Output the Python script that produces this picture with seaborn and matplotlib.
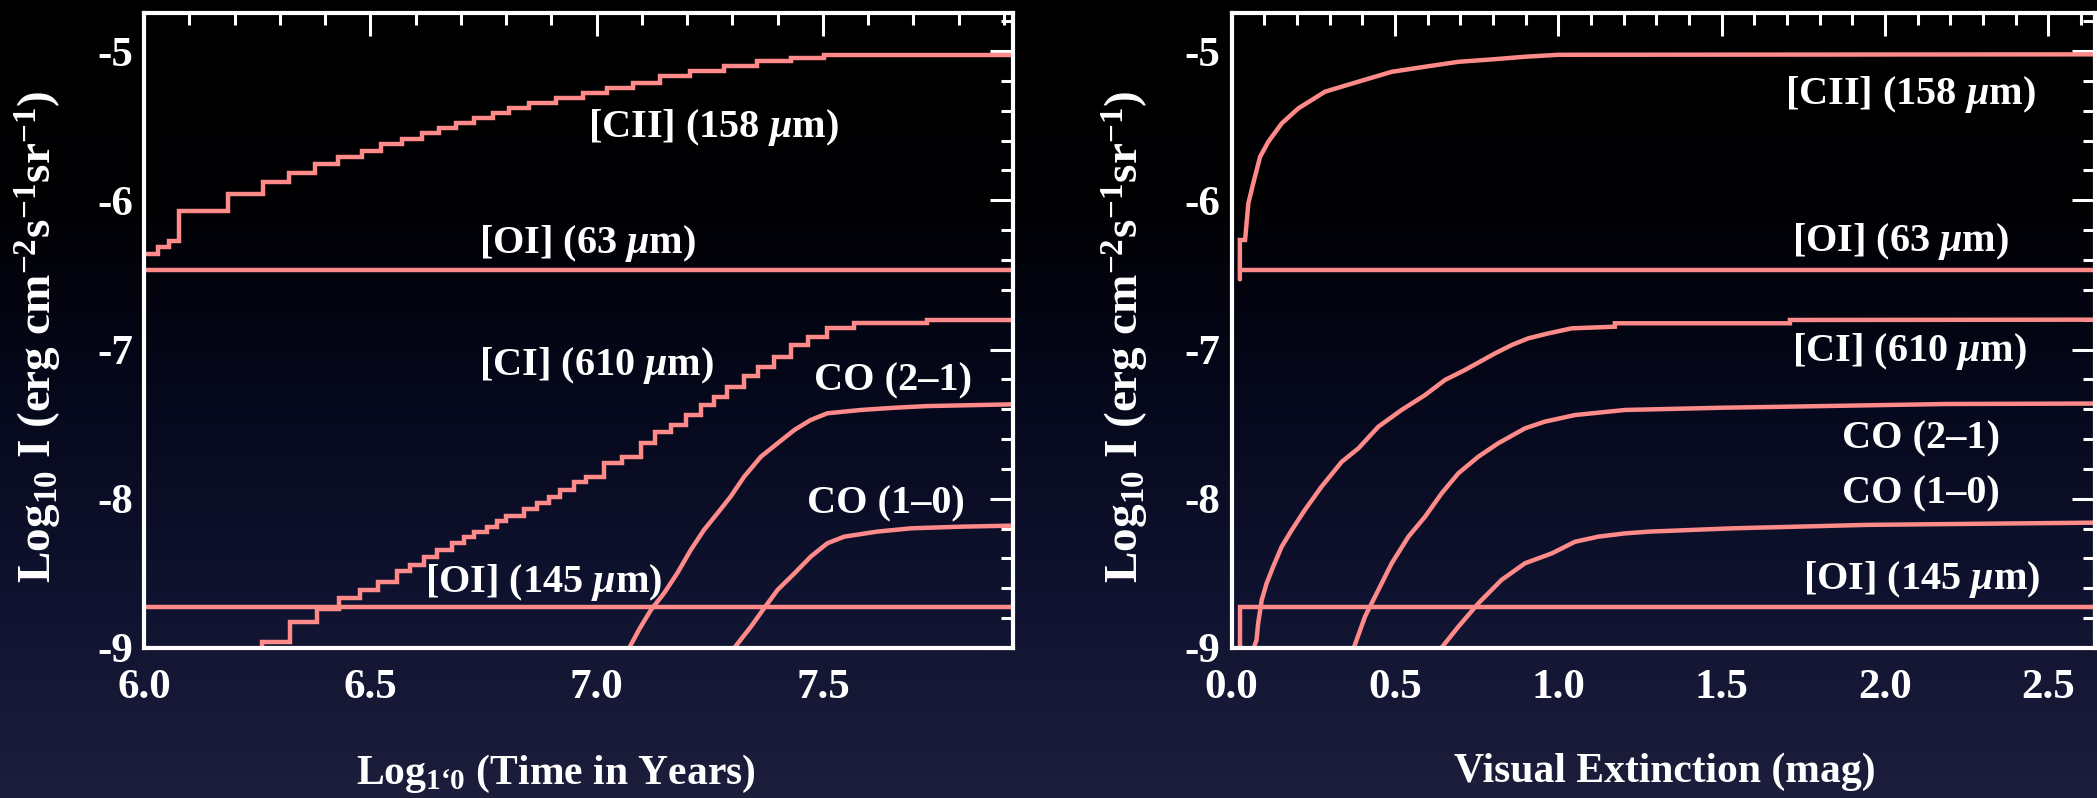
import numpy as np
import pandas as pd
import matplotlib
matplotlib.use("Agg")
import matplotlib.pyplot as plt
from matplotlib.colors import LinearSegmentedColormap
from matplotlib.ticker import MultipleLocator, FormatStrFormatter, FixedLocator
import seaborn as sns

# ---------------- data ----------------
# Left panel: Log10(time in years)
cii_t_x = [6.000, 6.030, 6.055, 6.078, 6.185, 6.262, 6.321, 6.378, 6.429, 6.481,
           6.523, 6.570, 6.615, 6.652, 6.689, 6.729, 6.770, 6.807, 6.851, 6.911,
           6.970, 7.022, 7.081, 7.140, 7.207, 7.281, 7.355, 7.429, 7.503, 7.920]
cii_t_y = [-6.360, -6.310, -6.270, -6.072, -5.960, -5.878, -5.817, -5.756, -5.708, -5.667,
           -5.626, -5.586, -5.551, -5.517, -5.483, -5.449, -5.415, -5.381, -5.347, -5.313,
           -5.279, -5.245, -5.211, -5.170, -5.136, -5.102, -5.068, -5.044, -5.027, -5.027]

ci_t_x = [6.260, 6.260, 6.323, 6.382, 6.430, 6.478, 6.518, 6.559, 6.588, 6.618,
          6.648, 6.681, 6.706, 6.730, 6.758, 6.780, 6.800, 6.840, 6.869, 6.895,
          6.920, 6.950, 6.976, 7.016, 7.057, 7.097, 7.130, 7.164, 7.197, 7.230,
          7.260, 7.289, 7.326, 7.356, 7.392, 7.430, 7.466, 7.510, 7.569, 7.730, 7.920]
ci_t_y = [-9.000, -8.958, -8.824, -8.740, -8.667, -8.610, -8.556, -8.482, -8.444, -8.388,
          -8.343, -8.294, -8.258, -8.220, -8.187, -8.147, -8.116, -8.070, -8.026, -7.986,
          -7.940, -7.890, -7.852, -7.758, -7.718, -7.628, -7.550, -7.506, -7.439, -7.372,
          -7.316, -7.250, -7.180, -7.115, -7.048, -6.970, -6.914, -6.858, -6.820, -6.800, -6.800]

co21_t_x = [7.072, 7.095, 7.120, 7.149, 7.178, 7.208, 7.237, 7.267, 7.296, 7.326,
            7.363, 7.400, 7.437, 7.473, 7.510, 7.584, 7.658, 7.730, 7.920]
co21_t_y = [-9.000, -8.870, -8.745, -8.633, -8.500, -8.343, -8.210, -8.097, -7.986, -7.852,
            -7.718, -7.628, -7.539, -7.472, -7.427, -7.405, -7.390, -7.379, -7.367]

co10_t_x = [7.304, 7.341, 7.370, 7.400, 7.437, 7.473, 7.510, 7.547, 7.620, 7.695, 7.805, 7.920]
co10_t_y = [-9.000, -8.857, -8.734, -8.610, -8.500, -8.388, -8.298, -8.254, -8.220, -8.198, -8.187, -8.180]

oi63_t_x = [6.00, 7.92]
oi63_t_y = [-6.465, -6.465]
oi145_t_x = [6.00, 7.92]
oi145_t_y = [-8.722, -8.722]

# Right panel: visual extinction (mag)
cii_av_x = [0.025, 0.025, 0.041, 0.051, 0.066, 0.087, 0.112, 0.153, 0.204, 0.286,
            0.388, 0.490, 0.592, 0.694, 0.796, 0.898, 1.000, 2.643]
cii_av_y = [-6.530, -6.266, -6.266, -6.020, -5.886, -5.708, -5.608, -5.485, -5.384, -5.272,
            -5.205, -5.139, -5.105, -5.072, -5.056, -5.038, -5.025, -5.022]

ci_av_x = [0.066, 0.076, 0.081, 0.092, 0.107, 0.127, 0.153, 0.184, 0.224, 0.275,
           0.337, 0.388, 0.449, 0.520, 0.592, 0.653, 0.714, 0.806, 0.857, 0.908,
           0.969, 1.041, 1.173, 1.173, 1.709, 1.709, 2.643]
ci_av_y = [-9.010, -8.946, -8.834, -8.678, -8.566, -8.455, -8.321, -8.209, -8.075, -7.919,
           -7.752, -7.662, -7.517, -7.405, -7.305, -7.204, -7.137, -7.026, -6.970, -6.925,
           -6.892, -6.858, -6.847, -6.824, -6.824, -6.802, -6.800]

co21_av_x = [0.372, 0.408, 0.449, 0.490, 0.541, 0.592, 0.643, 0.694, 0.755, 0.816,
             0.898, 0.959, 1.051, 1.204, 1.500, 1.699, 2.188, 2.643]
co21_av_y = [-9.010, -8.790, -8.611, -8.432, -8.254, -8.120, -7.963, -7.829, -7.718, -7.628,
             -7.528, -7.483, -7.439, -7.405, -7.390, -7.383, -7.365, -7.362]

co10_av_x = [0.638, 0.694, 0.755, 0.826, 0.898, 0.980, 1.051, 1.122, 1.204, 1.280,
             1.535, 1.944, 2.643]
co10_av_y = [-9.010, -8.857, -8.701, -8.544, -8.432, -8.366, -8.288, -8.254, -8.232, -8.220,
             -8.198, -8.175, -8.160]

oi63_av_x = [0.025, 2.643]
oi63_av_y = [-6.467, -6.467]
oi145_av_x = [0.025, 0.025, 2.643]
oi145_av_y = [-9.000, -8.723, -8.723]

# labels: (text, x, y)
left_labels = [
    (r"[CII] (158 $\mathit{\mu}$m)", 7.257, -5.51),
    (r"[OI] (63 $\mathit{\mu}$m)", 6.980, -6.29),
    (r"[CI] (610 $\mathit{\mu}$m)", 7.000, -7.11),
    ("CO (2\u20131)", 7.655, -7.21),
    ("CO (1\u20130)", 7.640, -8.035),
    (r"[OI] (145 $\mathit{\mu}$m)", 6.883, -8.56),
]
right_labels = [
    (r"[CII] (158 $\mathit{\mu}$m)", 2.079, -5.288),
    (r"[OI] (63 $\mathit{\mu}$m)", 2.049, -6.278),
    (r"[CI] (610 $\mathit{\mu}$m)", 2.074, -7.01),
    ("CO (2\u20131)", 2.111, -7.598),
    ("CO (1\u20130)", 2.111, -7.965),
    (r"[OI] (145 $\mathit{\mu}$m)", 2.111, -8.544),
]
y_ticks = [-9, -8, -7, -6, -5]
left_xticks = [6.0, 6.5, 7.0, 7.5]
right_xticks = [0.0, 0.5, 1.0, 1.5, 2.0, 2.5]

# ---------------- style ----------------
sns.set_style("dark")
plt.rcParams["font.family"] = ["Liberation Serif", "DejaVu Serif"]
plt.rcParams["font.weight"] = "bold"
plt.rcParams["axes.unicode_minus"] = False
plt.rcParams["mathtext.fontset"] = "custom"
plt.rcParams["mathtext.rm"] = "Liberation Serif:bold"
plt.rcParams["mathtext.bf"] = "Liberation Serif:bold"
plt.rcParams["mathtext.it"] = "Liberation Serif:italic:bold"
plt.rcParams["mathtext.default"] = "rm"

LINE = "#ff8a8a"
W = 2097
H = 798
fig = plt.figure(figsize=(W / 100, H / 100), dpi=100)

# background gradient (black at top to dark navy at bottom)
bg = fig.add_axes([0, 0, 1, 1], zorder=-10)
grad = np.linspace(0, 1, 256).reshape(-1, 1)
cmap = LinearSegmentedColormap.from_list(
    "slide", [(0.0, "#000000"), (0.25, "#010103"), (0.5, "#06081c"),
              (0.75, "#10132f"), (1.0, "#1c1e3c")])
bg.imshow(grad, aspect="auto", cmap=cmap, extent=[0, 1, 1, 0])
bg.set_axis_off()

axL = fig.add_axes([144 / W, 1 - 648 / H, 869 / W, 635 / H])
axR = fig.add_axes([1231.7 / W, 1 - 648 / H, 863.3 / W, 635 / H])


def draw(ax, x, y, steps=False):
    df = pd.DataFrame({"x": x, "y": y})
    kw = dict(drawstyle="steps-post") if steps else {}
    sns.lineplot(data=df, x="x", y="y", ax=ax, estimator=None, sort=False,
                 color=LINE, linewidth=3.2, solid_joinstyle="miter", **kw)


draw(axL, oi63_t_x, oi63_t_y)
draw(axL, oi145_t_x, oi145_t_y)
draw(axL, cii_t_x, cii_t_y, steps=True)
draw(axL, ci_t_x, ci_t_y, steps=True)
draw(axL, co21_t_x, co21_t_y)
draw(axL, co10_t_x, co10_t_y)

draw(axR, oi63_av_x, oi63_av_y)
draw(axR, oi145_av_x, oi145_av_y)
draw(axR, cii_av_x, cii_av_y)
draw(axR, ci_av_x, ci_av_y)
draw(axR, co21_av_x, co21_av_y)
draw(axR, co10_av_x, co10_av_y)

for txt, x, y in left_labels:
    axL.text(x, y, txt, color="white", fontsize=29, fontweight="bold",
             ha="center", va="center")
for txt, x, y in right_labels:
    axR.text(x, y, txt, color="white", fontsize=29, fontweight="bold",
             ha="center", va="center")

ylab = r"Log$_{10}$ I (erg cm$^{-2}$s$^{-1}$sr$^{-1}$)"
for ax, xlim, xt in ((axL, (6.0, 7.92), left_xticks), (axR, (0.0, 2.643), right_xticks)):
    ax.set_facecolor("none")
    ax.set_xlim(*xlim)
    ax.set_ylim(-9.0, -4.745)
    ax.xaxis.set_major_locator(FixedLocator(xt))
    ax.xaxis.set_major_formatter(FormatStrFormatter("%.1f"))
    ax.xaxis.set_minor_locator(MultipleLocator(0.1))
    ax.yaxis.set_major_locator(FixedLocator(y_ticks))
    ax.yaxis.set_major_formatter(FormatStrFormatter("%d"))
    ax.yaxis.set_minor_locator(MultipleLocator(0.2))
    ax.tick_params(which="both", direction="in", top=True, right=True,
                   colors="white", width=2.2, labelsize=31)
    ax.tick_params(which="major", length=16.5)
    ax.tick_params(which="minor", length=8.6)
    ax.tick_params(axis="x", which="major", pad=15)
    ax.tick_params(axis="y", which="major", pad=8)
    for lab in ax.get_xticklabels() + ax.get_yticklabels():
        lab.set_fontweight("bold")
    for s in ax.spines.values():
        s.set_color("white")
        s.set_linewidth(3.0)
        s.set_visible(True)
    ax.grid(False)
    ax.set_ylabel(ylab, color="white", fontsize=34, fontweight="bold")

axL.set_xlabel("Log$_{1\u20180}$ (Time in Years)", color="white", fontsize=30,
               fontweight="bold")
axR.set_xlabel("Visual Extinction (mag)", color="white", fontsize=30,
               fontweight="bold")
axL.xaxis.set_label_coords(0.474, -0.165)
axR.xaxis.set_label_coords(0.502, -0.165)
axL.yaxis.set_label_coords(-0.092, 0.49)
axR.yaxis.set_label_coords(-0.094, 0.49)

fig.savefig("out.png", dpi=100)
